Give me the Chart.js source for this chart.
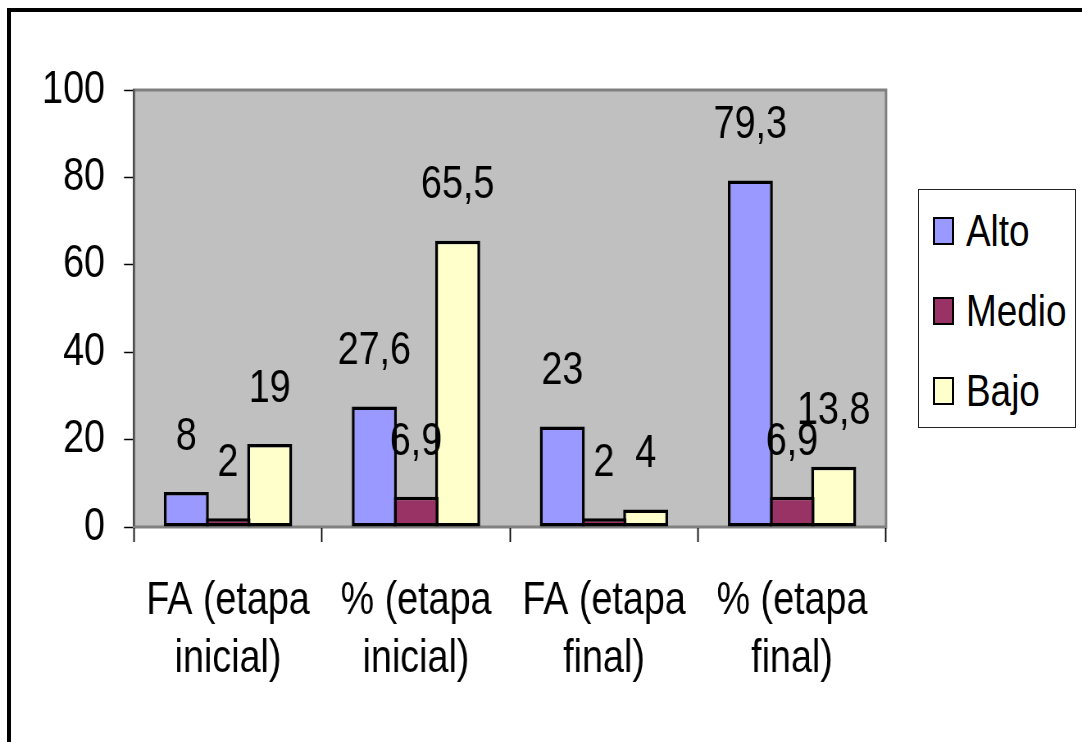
<!DOCTYPE html>
<html lang="es">
<head>
<meta charset="utf-8">
<title>Nivel Alto / Medio / Bajo</title>
<script src="https://cdn.jsdelivr.net/npm/chart.js@4.4.1/dist/chart.umd.min.js"></script>
<style>
    html, body {
        margin: 0;
        padding: 0;
        background: #fff;
        overflow: hidden;
    }
    .wrap {
        position: relative;
        width: 1082px;
        height: 742px;
        overflow: hidden;
    }
    .wrap canvas {
        position: absolute;
        left: 0;
        top: 0;
    }
    .frame {
        position: absolute;
        left: 7px;
        top: 8px;
        width: 1120px;
        height: 780px;
        border: 4px solid #000;
        pointer-events: none;
    }
    .legend-box {
        position: absolute;
        left: 918px;
        top: 189px;
        width: 156px;
        height: 237px;
        border: 1px solid #222;
        background: #fff;
        font-family: "Liberation Sans", Arial, sans-serif;
        font-size: 45px;
        color: #000;
    }
    .legend-item {
        display: flex;
        align-items: center;
        height: 80px;
    }
    .legend-item:first-child {
        margin-top: 1px;
    }
    .legend-swatch {
        width: 17px;
        height: 24px;
        border: 2px solid #000;
        margin-left: 14px;
        margin-right: 12px;
        flex-shrink: 0;
    }
    .legend-text {
        display: inline-block;
        transform: scaleX(0.82);
        transform-origin: left center;
        white-space: nowrap;
    }
</style>
</head>
<body>
<div class="wrap">
    <!-- drawn 1320 wide and shown at 1082: gives the narrow lettering -->
    <canvas id="nivelChart" width="1320" height="742" style="width:1082px;height:742px"></canvas>
    <div class="legend-box" id="legend"></div>
    <div class="frame"></div>
</div>
<script>
const categories = [
    ['FA (etapa', 'inicial)'],
    ['% (etapa', 'inicial)'],
    ['FA (etapa', 'final)'],
    ['% (etapa', 'final)']
];
const alto = [8, 27.6, 23, 79.3];
const medio = [2, 6.9, 2, 6.9];
const bajo = [19, 65.5, 4, 13.8];
const yTicks = [0, 20, 40, 60, 80, 100];

const FONT = '"Liberation Sans", Arial, sans-serif';
const SX = 1082 / 1320;   // horizontal squeeze of the canvas
const px = v => v / SX;   // screen px -> canvas px, horizontal only

// gray plot area with a darker outline
const plotBackground = {
    id: 'plotBackground',
    beforeDraw(chart) {
        const { ctx, chartArea: a } = chart;
        ctx.save();
        ctx.fillStyle = '#c0c0c0';
        ctx.fillRect(a.left, a.top, a.right - a.left, a.bottom - a.top);
        ctx.strokeStyle = '#808080';
        ctx.lineWidth = 3;
        ctx.strokeRect(a.left, a.top, a.right - a.left, a.bottom - a.top);
        ctx.restore();
    }
};

// value written above each bar, decimal comma
const valueLabels = {
    id: 'valueLabels',
    afterDatasetsDraw(chart) {
        const ctx = chart.ctx;
        ctx.save();
        ctx.font = '46px ' + FONT;
        ctx.fillStyle = '#000';
        ctx.textAlign = 'center';
        ctx.textBaseline = 'middle';
        chart.data.datasets.forEach((ds, i) => {
            chart.getDatasetMeta(i).data.forEach((bar, j) => {
                const text = String(ds.data[j]).replace('.', ',');
                ctx.fillText(text, bar.x, bar.y - 55);
            });
        });
        ctx.restore();
    }
};

document.addEventListener('DOMContentLoaded', function () {
    const series = [
        { label: 'Alto', data: alto, color: '#9999ff' },
        { label: 'Medio', data: medio, color: '#993366' },
        { label: 'Bajo', data: bajo, color: '#ffffcc' }
    ];

    const chart = new Chart(document.getElementById('nivelChart'), {
        type: 'bar',
        data: {
            labels: categories,
            datasets: series.map(s => ({
                label: s.label,
                data: s.data,
                backgroundColor: s.color,
                borderColor: '#000',
                borderWidth: 3.5,
                borderSkipped: false,
                barPercentage: 1.08,
                categoryPercentage: 0.665
            }))
        },
        options: {
            responsive: false,
            devicePixelRatio: 1,
            animation: false,
            layout: {
                padding: { left: px(10), top: 90, right: px(196), bottom: 0 }
            },
            plugins: {
                legend: { display: false },
                tooltip: { enabled: false }
            },
            scales: {
                y: {
                    min: 0,
                    max: 100,
                    afterBuildTicks: scale => {
                        scale.ticks = yTicks.map(v => ({ value: v }));
                    },
                    afterFit: scale => {
                        scale.width = px(124);
                    },
                    ticks: {
                        color: '#000',
                        padding: px(19),
                        font: { family: FONT, size: 46 }
                    },
                    grid: {
                        drawOnChartArea: false,
                        drawTicks: true,
                        tickLength: px(10),
                        tickColor: '#000',
                        tickWidth: 1.5
                    },
                    border: { color: '#505050', width: 2.4 }
                },
                x: {
                    afterFit: scale => {
                        scale.height = 215;
                    },
                    ticks: {
                        color: '#000',
                        padding: 30,
                        maxRotation: 0,
                        autoSkip: false,
                        font: { family: FONT, size: 46, lineHeight: 1.26 }
                    },
                    grid: {
                        offset: true,
                        drawOnChartArea: false,
                        drawTicks: true,
                        tickLength: 15,
                        tickColor: '#000',
                        tickWidth: 1.8
                    },
                    border: { color: '#808080', width: 2 }
                }
            }
        },
        plugins: [plotBackground, valueLabels]
    });

    const legend = document.getElementById('legend');
    chart.data.datasets.forEach(ds => {
        const item = document.createElement('div');
        item.className = 'legend-item';
        item.innerHTML = '<span class="legend-swatch" style="background:' + ds.backgroundColor + '"></span>' +
            '<span class="legend-text">' + ds.label + '</span>';
        legend.appendChild(item);
    });
});
</script>
</body>
</html>
